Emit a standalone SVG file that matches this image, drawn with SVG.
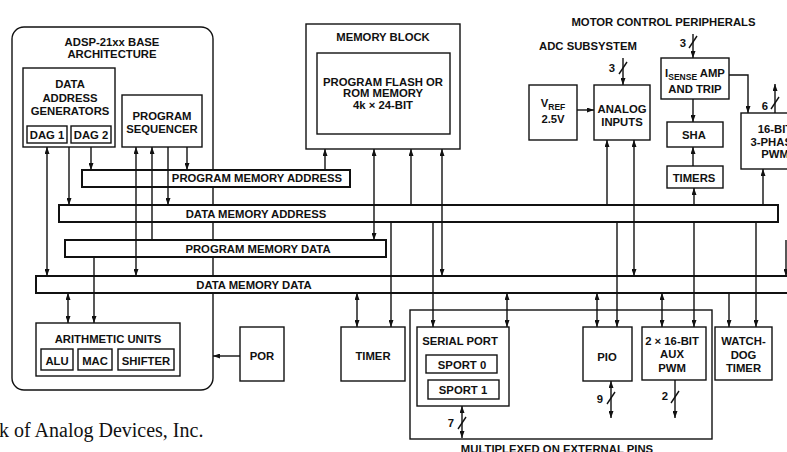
<svg xmlns="http://www.w3.org/2000/svg" width="787" height="452" viewBox="0 0 787 452">
<defs>
<style>
.box{fill:#fff;stroke:#111;stroke-width:1.4}
.bus{fill:#fff;stroke:#111;stroke-width:2}
.t{font-family:"Liberation Sans",Arial,sans-serif;font-weight:bold;font-size:11.3px;text-anchor:middle;fill:#111}
.c{fill:none;stroke:#111;stroke-width:1.4}
.e{marker-end:url(#ah)}
.d{marker-start:url(#ah);marker-end:url(#ah)}
</style>
<marker id="ah" viewBox="0 0 7 5" refX="7" refY="2.5" markerWidth="7" markerHeight="5" markerUnits="userSpaceOnUse" orient="auto-start-reverse"><path d="M0,0 L7,2.5 L0,5 z" fill="#111"/></marker>
</defs>
<rect width="787" height="452" fill="#fff"/>

<g id="base-architecture">
<rect x="12" y="27" width="201" height="363" rx="12" class="c"/>
<text class="t" x="112" y="46">ADSP-21xx BASE</text>
<text class="t" x="112" y="58">ARCHITECTURE</text>
</g>
<g id="dag">
<rect class="box" x="23" y="68" width="92" height="79"/>
<text class="t" x="70" y="88">DATA</text>
<text class="t" x="70" y="102">ADDRESS</text>
<text class="t" x="70" y="114.5">GENERATORS</text>
<rect class="box" x="27" y="126" width="40" height="17"/>
<text class="t" x="47" y="138.5">DAG 1</text>
<rect class="box" x="71" y="126" width="40" height="17"/>
<text class="t" x="91" y="138.5">DAG 2</text>
</g>
<g id="program-sequencer">
<rect class="box" x="122" y="95" width="80" height="52"/>
<text class="t" x="162" y="120">PROGRAM</text>
<text class="t" x="162" y="132.5">SEQUENCER</text>
</g>
<g id="arithmetic-units">
<rect class="box" x="36" y="323" width="144" height="53"/>
<text class="t" x="108" y="343">ARITHMETIC UNITS</text>
<rect class="box" x="41" y="349" width="32" height="21"/>
<text class="t" x="57" y="365">ALU</text>
<rect class="box" x="78" y="349" width="34" height="21"/>
<text class="t" x="95" y="365">MAC</text>
<rect class="box" x="118" y="349" width="56" height="21"/>
<text class="t" x="146" y="365">SHIFTER</text>
</g>
<g id="por">
<rect class="box" x="240" y="327" width="44" height="54"/>
<text class="t" x="262" y="360">POR</text>
</g>
<g id="timer">
<rect class="box" x="341" y="327" width="64" height="54"/>
<text class="t" x="373" y="360">TIMER</text>
</g>
<g id="memory-block">
<rect class="box" x="306" y="24" width="154" height="125"/>
<text class="t" x="383" y="41">MEMORY BLOCK</text>
<rect class="box" x="317" y="53" width="133" height="81"/>
<text class="t" x="383" y="85.5">PROGRAM FLASH OR</text>
<text class="t" x="383" y="97">ROM MEMORY</text>
<text class="t" x="383" y="109">4k × 24-BIT</text>
</g>
<g id="adc-subsystem">
<text class="t" x="588" y="50">ADC SUBSYSTEM</text>
</g>
<g id="vref">
<rect class="box" x="529" y="85" width="48" height="55"/>
<text class="t" x="553" y="107">V<tspan font-size="8.5" dy="3">REF</tspan></text>
<text class="t" x="553" y="123">2.5V</text>
</g>
<g id="analog-inputs">
<rect class="box" x="594" y="85" width="56" height="55"/>
<text class="t" x="622" y="113">ANALOG</text>
<text class="t" x="622" y="126">INPUTS</text>
</g>
<g id="motor-control">
<text class="t" x="663.5" y="25.5">MOTOR CONTROL PERIPHERALS</text>
</g>
<g id="isense">
<rect class="box" x="661" y="58" width="68" height="41"/>
<text class="t" x="695" y="77">I<tspan font-size="8.5" dy="3">SENSE</tspan><tspan dy="-3"> AMP</tspan></text>
<text class="t" x="695" y="92.5">AND TRIP</text>
</g>
<g id="sha">
<rect class="box" x="667" y="122" width="56" height="25"/>
<text class="t" x="694" y="139">SHA</text>
</g>
<g id="timers">
<rect class="box" x="667" y="166" width="56" height="22"/>
<text class="t" x="694" y="182">TIMERS</text>
</g>
<g id="pwm-3phase">
<rect class="box" x="741" y="113" width="68" height="56"/>
<text class="t" x="775" y="133">16-BIT</text>
<text class="t" x="775" y="146">3-PHASE</text>
<text class="t" x="775" y="158">PWM</text>
</g>
<g id="multiplexed">
<rect class="c" x="410" y="310" width="302" height="129"/>
<text class="t" x="557" y="453">MULTIPLEXED ON EXTERNAL PINS</text>
</g>
<g id="serial-port">
<rect class="box" x="417" y="327" width="92" height="79"/>
<text class="t" x="460" y="345">SERIAL PORT</text>
<rect class="box" x="426" y="355" width="71" height="18"/>
<text class="t" x="462" y="369">SPORT 0</text>
<rect class="box" x="428" y="380" width="71" height="19"/>
<text class="t" x="463" y="394">SPORT 1</text>
</g>
<g id="pio">
<rect class="box" x="583" y="327" width="49" height="54"/>
<text class="t" x="607" y="361">PIO</text>
</g>
<g id="aux-pwm">
<rect class="box" x="642" y="327" width="64" height="53"/>
<text class="t" x="672" y="345">2 × 16-BIT</text>
<text class="t" x="672" y="358">AUX</text>
<text class="t" x="672" y="372">PWM</text>
</g>
<g id="watchdog">
<rect class="box" x="715" y="327" width="57" height="53"/>
<text class="t" x="743.5" y="345">WATCH-</text>
<text class="t" x="743.5" y="358.5">DOG</text>
<text class="t" x="743.5" y="372">TIMER</text>
</g>

<g id="buses">
<rect class="bus" x="82" y="170" width="268" height="17"/>
<rect class="bus" x="59" y="205" width="719" height="17"/>
<rect class="bus" x="65" y="240" width="321" height="17"/>
<rect class="bus" x="36" y="276" width="770" height="17"/>
</g>

<g id="connectors">
<line class="c d" x1="47" y1="147" x2="47" y2="276"/>
<line class="c e" x1="69" y1="147" x2="69" y2="205"/>
<line class="c e" x1="91" y1="147" x2="91" y2="170"/>
<line class="c d" x1="136" y1="147" x2="136" y2="276"/>
<line class="c e" x1="152" y1="240" x2="152" y2="147"/>
<line class="c e" x1="168" y1="147" x2="168" y2="205"/>
<line class="c e" x1="187" y1="147" x2="187" y2="170"/>
<line class="c d" x1="68" y1="293" x2="68" y2="323"/>
<line class="c e" x1="94" y1="257" x2="94" y2="323"/>
<line class="c e" x1="240" y1="356" x2="213" y2="356"/>
<line class="c e" x1="325" y1="170" x2="325" y2="149"/>
<line class="c d" x1="374" y1="149" x2="374" y2="240"/>
<line class="c e" x1="411" y1="205" x2="411" y2="149"/>
<line class="c d" x1="442" y1="149" x2="442" y2="276"/>
<line class="c d" x1="357" y1="293" x2="357" y2="327"/>
<line class="c e" x1="391" y1="222" x2="391" y2="327"/>
<line class="c e" x1="433" y1="222" x2="433" y2="327"/>
<line class="c d" x1="507" y1="293" x2="507" y2="327"/>
<line class="c d" x1="462" y1="406" x2="462" y2="438"/>
<line class="c e" x1="577" y1="110" x2="594" y2="110"/>
<line class="c e" x1="623" y1="58" x2="623" y2="85"/>
<line class="c e" x1="607" y1="205" x2="607" y2="140"/>
<line class="c d" x1="634" y1="140" x2="634" y2="276"/>
<line class="c d" x1="597" y1="293" x2="597" y2="327"/>
<line class="c e" x1="617" y1="222" x2="617" y2="327"/>
<line class="c d" x1="611" y1="381" x2="611" y2="418"/>
<line class="c e" x1="693" y1="34" x2="693" y2="58"/>
<line class="c e" x1="693" y1="99" x2="693" y2="122"/>
<line class="c e" x1="693" y1="166" x2="693" y2="147"/>
<line class="c e" x1="694" y1="205" x2="694" y2="188"/>
<polyline class="c e" points="729,75 748,75 748,113"/>
<line class="c e" x1="775" y1="113" x2="775" y2="84"/>
<line class="c e" x1="763" y1="205" x2="763" y2="169"/>
<line class="c d" x1="662" y1="293" x2="662" y2="327"/>
<line class="c e" x1="694" y1="222" x2="694" y2="327"/>
<line class="c e" x1="675" y1="380" x2="675" y2="418"/>
<line class="c e" x1="729" y1="293" x2="729" y2="327"/>
<line class="c e" x1="756" y1="222" x2="756" y2="327"/>
<line class="c e" x1="786" y1="240" x2="786" y2="276"/>
<line class="c" x1="458" y1="429" x2="466" y2="417"/>
<line class="c" x1="607" y1="404" x2="615" y2="392"/>
<line class="c" x1="671" y1="403" x2="679" y2="391"/>
<line class="c" x1="619" y1="74" x2="627" y2="62"/>
<line class="c" x1="689" y1="48" x2="697" y2="36"/>
<line class="c" x1="771" y1="109" x2="779" y2="97"/>
<text class="t" x="451" y="427">7</text>
<text class="t" x="600" y="403">9</text>
<text class="t" x="665" y="400">2</text>
<text class="t" x="612" y="72">3</text>
<text class="t" x="683" y="46.5">3</text>
<text class="t" x="765" y="110">6</text>
</g>

<g id="bus-labels">
<text class="t" x="257" y="182">PROGRAM MEMORY ADDRESS</text>
<text class="t" x="256" y="218">DATA MEMORY ADDRESS</text>
<text class="t" x="258" y="253">PROGRAM MEMORY DATA</text>
<text class="t" x="254" y="289">DATA MEMORY DATA</text>
</g>

<text x="-1" y="437" font-family="'Liberation Serif','Times New Roman',serif" font-size="20" fill="#111">k of Analog Devices, Inc.</text>
</svg>
